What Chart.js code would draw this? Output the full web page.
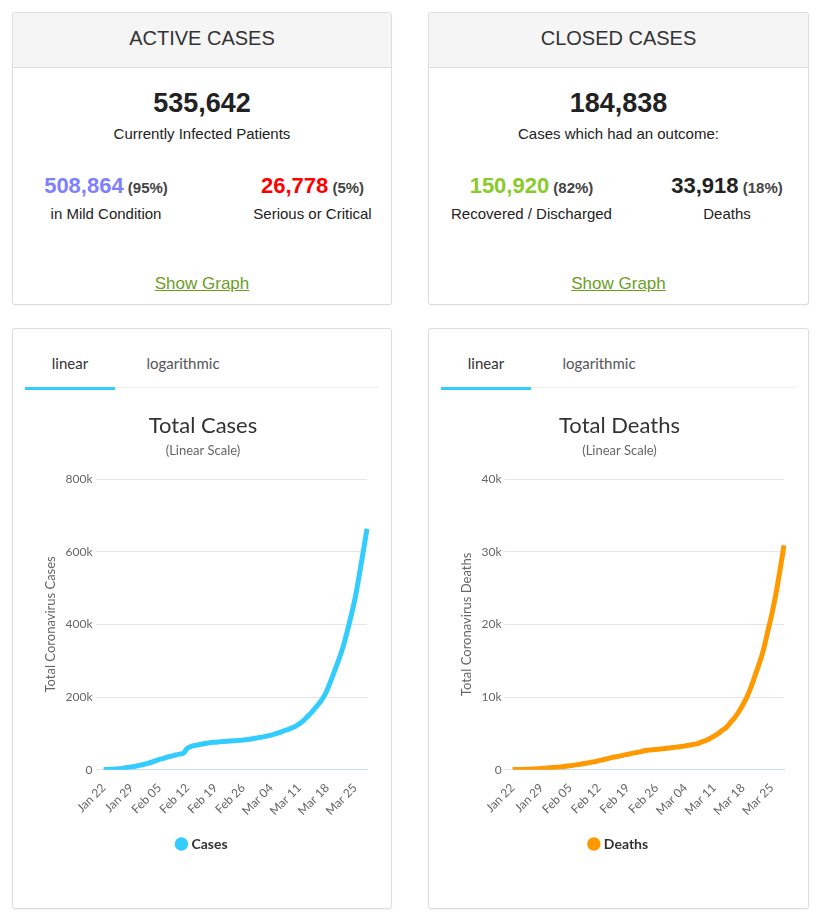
<!DOCTYPE html>
<html>
<head>
<meta charset="utf-8">
<script src="https://cdn.jsdelivr.net/npm/chart.js@4"></script>
<style>
  body { margin: 0; background: #fff; font-family: "Liberation Sans", Arial, sans-serif; color: #333; }
  .panel { position: absolute; border: 1px solid #ddd; border-radius: 3px; background: #fff; box-sizing: border-box; box-shadow: 0 1px 2px rgba(0,0,0,0.05); }
  .head { background: #f5f5f5; border-bottom: 1px solid #ddd; height: 54px; line-height: 50px; text-align: center; font-size: 20px; color: #333; }
  .big { text-align: center; font-size: 27px; font-weight: bold; color: #222; margin-top: 20px; }
  .sub { text-align: center; font-size: 15px; margin-top: 6px; color: #222; }
  .col { position: absolute; top: 160px; text-align: center; font-size: 15px; color: #222; }
  .col b { font-size: 22px; }
  .col .p { font-size: 15px; font-weight: bold; color: #444; }
  .col div { margin-top: 6px; }
  .link { position: absolute; top: 261px; width: 100%; text-align: center; font-size: 17px; color: #6a9e1f; text-decoration: underline; }
  .tabs { position: absolute; top: 22px; left: 12px; right: 12px; height: 36px; border-bottom: 1px solid #eee; font-family: Lato, sans-serif; font-size: 15px; }
  .tab { position: absolute; top: 0; height: 36px; line-height: 24px; text-align: center; color: #555; }
  .tab.on { border-bottom: 3px solid #33ccff; color: #333; }
  .cw { position: absolute; left: 10px; right: 14px; top: 80px; height: 452px; }
</style>
</head>
<body>
<div class="panel" style="left:12px;top:12px;width:380px;height:293px">
  <div class="head">ACTIVE CASES</div>
  <div class="big">535,642</div>
  <div class="sub">Currently Infected Patients</div>
  <div class="col" style="left:18px;width:150px"><b style="color:#8080ff">508,864</b> <span class="p">(95%)</span><div>in Mild Condition</div></div>
  <div class="col" style="left:232px;width:135px"><b style="color:#ff0000">26,778</b> <span class="p">(5%)</span><div>Serious or Critical</div></div>
  <div class="link">Show Graph</div>
</div>
<div class="panel" style="left:428px;top:12px;width:381px;height:293px">
  <div class="head">CLOSED CASES</div>
  <div class="big">184,838</div>
  <div class="sub">Cases which had an outcome:</div>
  <div class="col" style="left:10px;width:185px"><b style="color:#8aca2b">150,920</b> <span class="p">(82%)</span><div>Recovered / Discharged</div></div>
  <div class="col" style="left:228px;width:140px"><b>33,918</b> <span class="p">(18%)</span><div>Deaths</div></div>
  <div class="link">Show Graph</div>
</div>
<div class="panel" style="left:12px;top:328px;width:380px;height:581px">
  <div class="tabs"><div class="tab on" style="left:0;width:90px">linear</div><div class="tab" style="left:108px;width:100px">logarithmic</div></div>
  <div class="cw"><canvas id="casesChart"></canvas></div>
</div>
<div class="panel" style="left:428px;top:328px;width:381px;height:581px">
  <div class="tabs"><div class="tab on" style="left:0;width:90px">linear</div><div class="tab" style="left:108px;width:100px">logarithmic</div></div>
  <div class="cw"><canvas id="deathsChart"></canvas></div>
</div>
<script>
const days = [
  'Jan 22','Jan 23','Jan 24','Jan 25','Jan 26','Jan 27','Jan 28','Jan 29','Jan 30','Jan 31',
  'Feb 01','Feb 02','Feb 03','Feb 04','Feb 05','Feb 06','Feb 07','Feb 08','Feb 09','Feb 10',
  'Feb 11','Feb 12','Feb 13','Feb 14','Feb 15','Feb 16','Feb 17','Feb 18','Feb 19','Feb 20',
  'Feb 21','Feb 22','Feb 23','Feb 24','Feb 25','Feb 26','Feb 27','Feb 28','Feb 29',
  'Mar 01','Mar 02','Mar 03','Mar 04','Mar 05','Mar 06','Mar 07','Mar 08','Mar 09','Mar 10',
  'Mar 11','Mar 12','Mar 13','Mar 14','Mar 15','Mar 16','Mar 17','Mar 18','Mar 19','Mar 20',
  'Mar 21','Mar 22','Mar 23','Mar 24','Mar 25','Mar 26','Mar 27','Mar 28'
];
const totalCases = [
  580,845,1317,2015,2800,4581,6058,7813,9823,11948,
  14551,17389,20628,24553,28276,31439,34876,37552,40553,43099,
  45170,59283,64543,67103,69265,71332,73327,75184,75700,76677,
  77673,78651,79205,80087,80828,81820,83112,84615,86604,
  88585,90443,93016,95314,98425,102050,106099,109991,114381,118948,
  126214,134576,145483,156653,169593,182490,198238,218822,246841,275553,
  305275,337570,378830,422574,471035,531865,596366,663127
];
const totalDeaths = [
  17,25,41,56,80,106,132,170,213,259,
  304,362,426,492,565,638,724,813,910,1018,
  1115,1261,1383,1526,1669,1775,1873,2009,2126,2247,
  2360,2460,2618,2699,2763,2800,2858,2923,2977,
  3050,3117,3202,3285,3387,3494,3599,3827,4025,4296,
  4628,4981,5428,5833,6520,7162,7979,8951,10030,11386,
  13011,14640,16505,18905,21293,24073,27370,30879
];
const caseTicks = [0, 200000, 400000, 600000, 800000];
const deathTicks = [0, 10000, 20000, 30000, 40000];

function makeChart(id, label, data, color, title, yTitle, ticks) {
  const font = 'Lato, "Open Sans", sans-serif';
  return new Chart(document.getElementById(id), {
    type: 'line',
    data: { labels: days, datasets: [{ label: label, data: data, borderColor: color, backgroundColor: color, borderWidth: 5, pointRadius: 0, tension: 0.3, fill: false }] },
    options: {
      responsive: true, maintainAspectRatio: false, animation: false,
      layout: { padding: { left: 16, right: 10, bottom: 0 } },
      plugins: {
        title: { display: true, text: title, color: '#333', font: { family: font, size: 22, weight: 'normal' }, padding: { top: 4, bottom: 4 } },
        subtitle: { display: true, text: '(Linear Scale)', color: '#666', font: { family: font, size: 13 }, padding: { bottom: 20 } },
        legend: { position: 'bottom', labels: { usePointStyle: true, pointStyle: 'circle', boxWidth: 6, boxHeight: 6, color: '#333', font: { family: font, size: 14, weight: 'bold' }, padding: 16 } },
        tooltip: { enabled: false }
      },
      scales: {
        x: {
          grid: { display: false }, border: { color: '#ccd6eb' },
          ticks: { autoSkip: false, maxRotation: 45, minRotation: 45, color: '#666', font: { family: font, size: 12 },
            callback: (v, i) => i % 7 === 0 ? days[i] : null }
        },
        y: {
          min: ticks[0], max: ticks[ticks.length - 1],
          afterBuildTicks: ax => { ax.ticks = ticks.map(v => ({ value: v })); },
          grid: { color: '#e6e6e6' }, border: { display: false },
          title: { display: true, text: yTitle, color: '#666', font: { family: font, size: 13 } },
          ticks: { color: '#666', font: { family: font, size: 12 }, callback: v => v === 0 ? '0' : (v / 1000) + 'k' }
        }
      }
    }
  });
}
makeChart('casesChart', 'Cases', totalCases, '#33ccff', 'Total Cases', 'Total Coronavirus Cases', caseTicks);
makeChart('deathsChart', 'Deaths', totalDeaths, '#ff9900', 'Total Deaths', 'Total Coronavirus Deaths', deathTicks);
</script>
</body>
</html>
